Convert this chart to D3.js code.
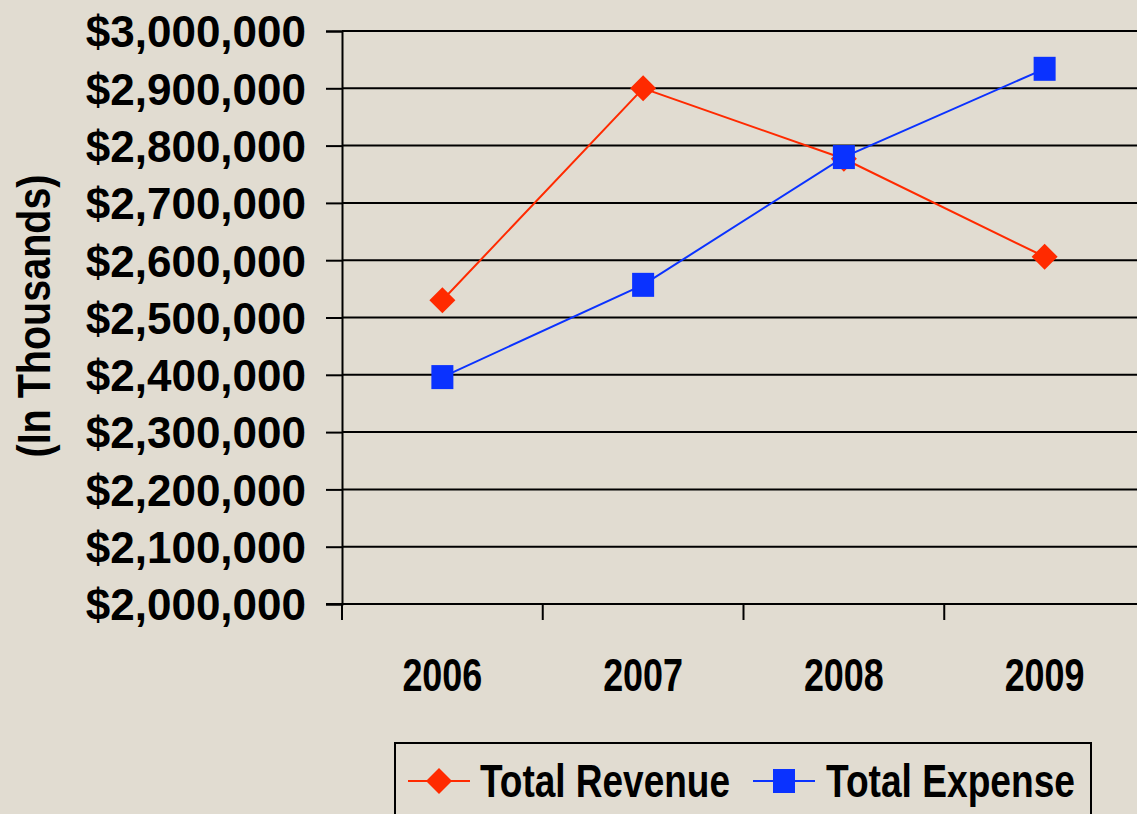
<!DOCTYPE html>
<html>
<head>
<meta charset="utf-8">
<script src="https://cdn.jsdelivr.net/npm/d3@7"></script>
<style>
  html, body { margin: 0; padding: 0; background: #e1dcd1; overflow: hidden; }
  svg { display: block; }
</style>
</head>
<body>
<svg id="chart" width="1137" height="814"></svg>
<script>
// data
const years = ['2006', '2007', '2008', '2009']
const totalRevenue = [2530000, 2900000, 2777000, 2606000]
const totalExpense = [2396000, 2557000, 2780000, 2934000]
const yTicks = [2000000, 2100000, 2200000, 2300000, 2400000, 2500000,
  2600000, 2700000, 2800000, 2900000, 3000000]

const width = 1137
const height = 814
const redColor = '#ff2a00'
const blueColor = '#0a32ff'
const narrow = "'Liberation Sans Narrow', 'Arial Narrow', 'Liberation Sans', Arial, sans-serif"
const wide = "'Liberation Sans', Arial, sans-serif"

const svg = d3.select('#chart')

svg.append('rect')
  .attr('width', width)
  .attr('height', height)
  .attr('fill', '#e1dcd1')

// plot area runs past the right edge of the picture
const x = d3.scaleBand().domain(years).range([342, 1145])
const y = d3.scaleLinear().domain([2000000, 3000000]).range([604, 31])
const xc = (d) => x(d) + x.bandwidth() / 2

// grid lines
svg.append('g')
  .attr('id', 'grid')
  .selectAll('line')
  .data(yTicks)
  .join('line')
  .attr('x1', 342)
  .attr('x2', width)
  .attr('y1', (d) => y(d))
  .attr('y2', (d) => y(d))
  .attr('stroke', '#000')
  .attr('stroke-width', 2)

// y axis
const yAxis = svg.append('g')
  .attr('id', 'yAxis')
  .attr('transform', 'translate(342,0)')
  .call(d3.axisLeft(y).tickValues(yTicks).tickSize(16).tickPadding(20)
    .tickFormat((d) => '$' + d3.format(',')(d)))

yAxis.select('.domain').attr('stroke', '#000').attr('stroke-width', 2)
yAxis.selectAll('.tick line').attr('stroke', '#000').attr('stroke-width', 2)
yAxis.selectAll('.tick text')
  .attr('font-family', wide)
  .attr('font-weight', 'bold')
  .attr('font-size', 44)
  .attr('fill', '#000')
  .attr('dy', '0.36em')

// x axis
const xAxis = svg.append('g')
  .attr('id', 'xAxis')
  .attr('transform', 'translate(0,604)')

xAxis.append('line')
  .attr('x1', 326)
  .attr('x2', width)
  .attr('stroke', '#000')
  .attr('stroke-width', 2)

xAxis.selectAll('line.tick')
  .data(years)
  .join('line')
  .attr('class', 'tick')
  .attr('x1', (d) => x(d))
  .attr('x2', (d) => x(d))
  .attr('y1', 0)
  .attr('y2', 16)
  .attr('stroke', '#000')
  .attr('stroke-width', 2)

xAxis.selectAll('text')
  .data(years)
  .join('text')
  .attr('x', (d) => xc(d))
  .attr('y', 87)
  .attr('text-anchor', 'middle')
  .attr('font-family', narrow)
  .attr('font-weight', 'bold')
  .attr('font-size', 47)
  .attr('textLength', 80)
  .attr('lengthAdjust', 'spacingAndGlyphs')
  .text((d) => d)

// y title
svg.append('text')
  .attr('transform', 'translate(50,316) rotate(-90)')
  .attr('text-anchor', 'middle')
  .attr('font-family', wide)
  .attr('font-weight', 'bold')
  .attr('font-size', 46)
  .attr('textLength', 283)
  .attr('lengthAdjust', 'spacingAndGlyphs')
  .text('(In Thousands)')

const line = d3.line().x((d, i) => xc(years[i])).y((d) => y(d))

const diamond = (s) => `M0,${-s}L${s},0L0,${s}L${-s},0Z`

// revenue series
svg.append('path')
  .datum(totalRevenue)
  .attr('fill', 'none')
  .attr('stroke', redColor)
  .attr('stroke-width', 2)
  .attr('d', line)

svg.append('g')
  .selectAll('path')
  .data(totalRevenue)
  .join('path')
  .attr('transform', (d, i) => `translate(${xc(years[i])},${y(d)})`)
  .attr('d', diamond(13))
  .attr('fill', redColor)

// expense series
svg.append('path')
  .datum(totalExpense)
  .attr('fill', 'none')
  .attr('stroke', blueColor)
  .attr('stroke-width', 2)
  .attr('d', line)

svg.append('g')
  .selectAll('rect')
  .data(totalExpense)
  .join('rect')
  .attr('x', (d, i) => xc(years[i]) - 11)
  .attr('y', (d) => y(d) - 12)
  .attr('width', 22)
  .attr('height', 24)
  .attr('fill', blueColor)

// legend
const legendG = svg.append('g').attr('id', 'legend')

legendG.append('rect')
  .attr('x', 395)
  .attr('y', 743)
  .attr('width', 696)
  .attr('height', 120)
  .attr('fill', 'none')
  .attr('stroke', '#000')
  .attr('stroke-width', 2)

const legendItems = [
  { name: 'Total Revenue', color: redColor, x0: 408, tx: 480, tw: 250, marker: 'diamond' },
  { name: 'Total Expense', color: blueColor, x0: 753, tx: 826, tw: 249, marker: 'square' },
]

legendItems.forEach((d) => {
  legendG.append('line')
    .attr('x1', d.x0)
    .attr('x2', d.x0 + 62)
    .attr('y1', 781)
    .attr('y2', 781)
    .attr('stroke', d.color)
    .attr('stroke-width', 2)
  if (d.marker === 'diamond') {
    legendG.append('path')
      .attr('transform', `translate(${d.x0 + 31},781)`)
      .attr('d', diamond(13))
      .attr('fill', d.color)
  } else {
    legendG.append('rect')
      .attr('x', d.x0 + 20)
      .attr('y', 769)
      .attr('width', 22)
      .attr('height', 24)
      .attr('fill', d.color)
  }
  legendG.append('text')
    .attr('x', d.tx)
    .attr('y', 797)
    .attr('font-family', narrow)
    .attr('font-weight', 'bold')
    .attr('font-size', 47)
    .attr('textLength', d.tw)
    .attr('lengthAdjust', 'spacingAndGlyphs')
    .text(d.name)
})
</script>
</body>
</html>
